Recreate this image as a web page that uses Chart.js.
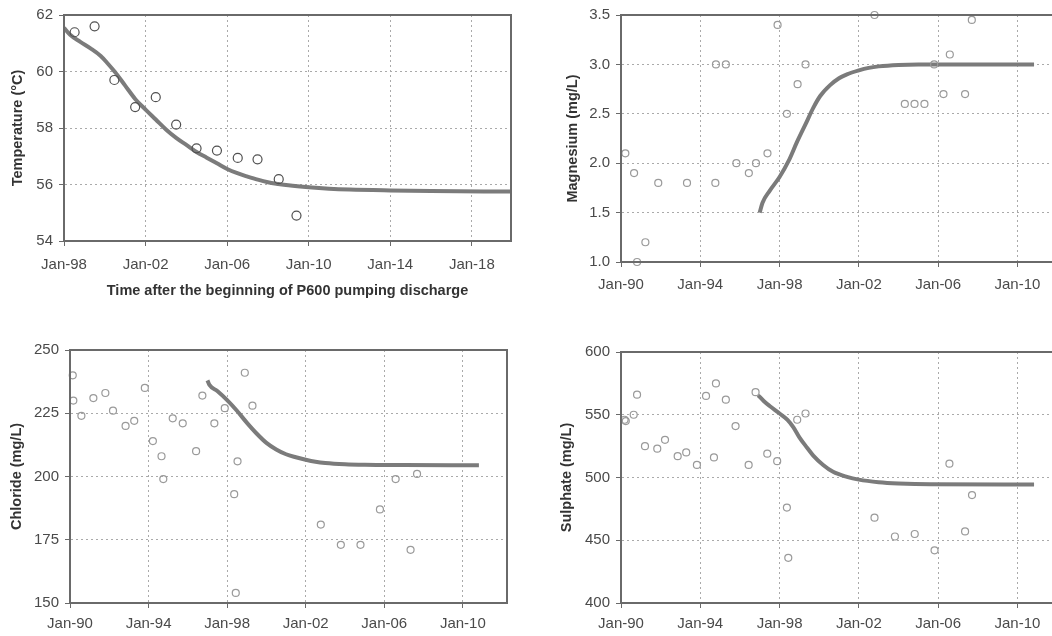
<!DOCTYPE html>
<html>
<head>
<meta charset="utf-8">
<script src="https://cdn.jsdelivr.net/npm/chart.js@4.4.1/dist/chart.umd.min.js"></script>
<style>
  html, body { margin: 0; padding: 0; background: #fff; overflow: hidden; width: 1052px; height: 636px; position: relative; }
  canvas { position: absolute; }
</style>
</head>
<body>
<canvas id="temp" width="530" height="310" style="left:0;top:0"></canvas>
<canvas id="mg" width="545" height="310" style="left:530px;top:0"></canvas>
<canvas id="cl" width="530" height="306" style="left:0;top:330px"></canvas>
<canvas id="so4" width="545" height="306" style="left:530px;top:330px"></canvas>
<script>
// x values are decimal years (Jan-98 = 1998.0)
var tempTicksX = [1998, 2002, 2006, 2010, 2014, 2018];
var chemTicksX = [1990, 1994, 1998, 2002, 2006, 2010];
var tempTicksY = [54, 56, 58, 60, 62];
var mgTicksY = [1.0, 1.5, 2.0, 2.5, 3.0, 3.5];
var clTicksY = [150, 175, 200, 225, 250];
var so4TicksY = [400, 450, 500, 550, 600];

// Temperature - measured
var tempObsYear = [1998.52, 1999.5, 2000.47, 2001.49, 2002.5, 2003.5, 2004.5, 2005.5, 2006.52, 2007.49, 2008.53, 2009.4];
var tempObsVal  = [61.39, 61.6, 59.7, 58.74, 59.09, 58.12, 57.28, 57.2, 56.94, 56.89, 56.19, 54.9];
// Temperature - model
var tempFitYear = [1998.0, 1998.3, 1998.8, 1999.3, 1999.8, 2000.1, 2000.5, 2001.0, 2001.5, 2002.0, 2002.5, 2003.0, 2003.5, 2004.0, 2004.5, 2005.0, 2005.5, 2006.0, 2006.5, 2007.0, 2007.5, 2008.0, 2008.5, 2009.0, 2010.0, 2011.0, 2012.0, 2014.0, 2016.0, 2019.92];
var tempFitVal  = [61.55, 61.3, 61.05, 60.82, 60.55, 60.32, 59.98, 59.5, 59.02, 58.65, 58.3, 57.95, 57.65, 57.4, 57.15, 56.95, 56.75, 56.55, 56.4, 56.28, 56.17, 56.08, 56.02, 55.97, 55.9, 55.85, 55.82, 55.79, 55.77, 55.75];

// Magnesium
var mgObsYear = [1990.22, 1990.66, 1990.81, 1991.23, 1991.88, 1993.33, 1994.76, 1994.79, 1995.29, 1995.82, 1996.45, 1996.81, 1997.39, 1997.9, 1998.37, 1998.91, 1999.31, 2002.79, 2004.32, 2004.81, 2005.31, 2005.8, 2006.27, 2006.59, 2007.36, 2007.7];
var mgObsVal  = [2.1, 1.9, 1.0, 1.2, 1.8, 1.8, 1.8, 3.0, 3.0, 2.0, 1.9, 2.0, 2.1, 3.4, 2.5, 2.8, 3.0, 3.5, 2.6, 2.6, 2.6, 3.0, 2.7, 3.1, 2.7, 3.45];
var mgFitYear = [1997.0, 1997.14, 1997.5, 1998.0, 1998.45, 1998.87, 1999.3, 1999.7, 2000.05, 2000.55, 2001.0, 2001.4, 2002.0, 2002.5, 2003.0, 2004.0, 2005.0, 2010.84];
var mgFitVal  = [1.5, 1.6, 1.72, 1.86, 2.02, 2.21, 2.39, 2.56, 2.68, 2.79, 2.86, 2.9, 2.94, 2.965, 2.98, 2.995, 3.0, 3.0];

// Chloride
var clObsYear = [1990.14, 1990.17, 1990.58, 1991.19, 1991.8, 1992.19, 1992.83, 1993.27, 1993.81, 1994.22, 1994.66, 1994.75, 1995.23, 1995.74, 1996.42, 1996.74, 1997.35, 1997.88, 1998.36, 1998.53, 1998.44, 1998.9, 1999.29, 2002.77, 2003.79, 2004.79, 2005.78, 2006.58, 2007.34, 2007.67];
var clObsVal  = [240, 230, 224, 231, 233, 226, 220, 222, 235, 214, 208, 199, 223, 221, 210, 232, 221, 227, 193, 206, 154, 241, 228, 181, 173, 173, 187, 199, 171, 201];
var clFitYear = [1997.0, 1997.1, 1997.5, 1998.0, 1998.5, 1999.0, 1999.5, 2000.0, 2000.5, 2001.0, 2001.5, 2002.0, 2002.5, 2003.0, 2004.0, 2005.0, 2007.0, 2010.82];
var clFitVal  = [238, 236.2, 233.8, 230.2, 226.0, 221.3, 217.0, 213.3, 210.7, 208.8, 207.6, 206.6, 205.8, 205.3, 204.8, 204.6, 204.5, 204.4];

// Sulphate
var so4ObsYear = [1990.18, 1990.24, 1990.64, 1990.81, 1991.21, 1991.83, 1992.22, 1992.86, 1993.29, 1993.83, 1994.29, 1994.69, 1994.79, 1995.29, 1995.78, 1996.44, 1996.79, 1997.38, 1997.88, 1998.37, 1998.44, 1998.89, 1999.31, 2002.79, 2003.82, 2004.82, 2005.82, 2006.57, 2007.36, 2007.71];
var so4ObsVal  = [546, 545, 550, 566, 525, 523, 530, 517, 520, 510, 565, 516, 575, 562, 541, 510, 568, 519, 513, 476, 436, 546, 551, 468, 453, 455, 442, 511, 457, 486];
var so4FitYear = [1996.92, 1997.2, 1997.5, 1998.0, 1998.4, 1998.7, 1999.0, 1999.4, 1999.7, 2000.2, 2000.7, 2001.4, 2002.0, 2003.0, 2004.0, 2005.6, 2010.84];
var so4FitVal  = [565.5, 561, 557, 551, 546, 540, 532, 523.5, 517.5, 510, 504.5, 500.5, 498.3, 496.3, 495.3, 494.6, 494.4];

var FONT = "'Liberation Sans', Arial, sans-serif";

function pts(xs, ys) {
  return xs.map(function (x, i) { return { x: x, y: ys[i] }; });
}

function janLabel(v) {
  return 'Jan-' + String(v).slice(2);
}

// solid box round the plot area
var framePlugin = {
  id: 'frame',
  afterDraw: function (chart) {
    var a = chart.chartArea, ctx = chart.ctx;
    ctx.save();
    ctx.strokeStyle = '#6a6a6a';
    ctx.lineWidth = 2;
    ctx.strokeRect(a.left, a.top, a.right - a.left, a.bottom - a.top);
    ctx.restore();
  }
};

function makeChart(id, o) {
  var ctx = document.getElementById(id).getContext('2d');
  return new Chart(ctx, {
    type: 'scatter',
    data: {
      datasets: [{
        data: pts(o.obsX, o.obsY),
        pointStyle: 'circle',
        pointRadius: o.r,
        borderColor: o.obsColor,
        backgroundColor: 'rgba(0,0,0,0)',
        borderWidth: 1.2,
        clip: false
      }, {
        type: 'line',
        data: pts(o.fitX, o.fitY),
        borderColor: '#7b7b7b',
        borderWidth: 4,
        pointRadius: 0,
        cubicInterpolationMode: 'monotone',
        fill: false
      }]
    },
    options: {
      responsive: false,
      animation: false,
      devicePixelRatio: 1,
      layout: { padding: o.pad },
      plugins: { legend: { display: false }, tooltip: { enabled: false } },
      scales: {
        x: {
          type: 'linear',
          min: o.xMin,
          max: o.xMax,
          afterBuildTicks: function (s) { s.ticks = o.xTicks.map(function (v) { return { value: v }; }); },
          afterFit: function (s) { s.height = o.xH; },
          grid: { color: '#aaaaaa', tickColor: '#6a6a6a', tickLength: 5, lineWidth: 1 },
          border: { color: '#6a6a6a', width: 2, dash: [2, 3] },
          ticks: {
            padding: o.xTickPad,
            maxRotation: 0,
            color: '#4a4a4a',
            font: { family: FONT, size: 15 },
            callback: function (v) { return janLabel(v); }
          },
          title: {
            display: !!o.xTitle,
            text: o.xTitle || '',
            color: '#333',
            font: { family: FONT, size: 14.5, weight: 'bold' },
            padding: { top: 0, bottom: 10 }
          }
        },
        y: {
          min: o.yTicks[0],
          max: o.yTicks[o.yTicks.length - 1],
          afterBuildTicks: function (s) { s.ticks = o.yTicks.map(function (v) { return { value: v }; }); },
          afterFit: function (s) { s.width = o.yW; },
          grid: { color: '#aaaaaa', tickColor: '#6a6a6a', tickLength: 5, lineWidth: 1 },
          border: { color: '#6a6a6a', width: 2, dash: [2, 3] },
          ticks: {
            padding: 6,
            color: '#4a4a4a',
            font: { family: FONT, size: 15 },
            callback: function (v) { return o.yFmt ? v.toFixed(o.yFmt) : v; }
          },
          title: {
            display: true,
            text: o.yTitle,
            color: '#333',
            font: { family: FONT, size: 14.5, weight: 'bold' },
            padding: { top: o.yTitlePad, bottom: 0 }
          }
        }
      }
    },
    plugins: [framePlugin]
  });
}

makeChart('temp', {
  obsX: tempObsYear, obsY: tempObsVal, fitX: tempFitYear, fitY: tempFitVal,
  r: 4.5, obsColor: '#505050',
  xMin: 1998, xMax: 2019.92, xTicks: tempTicksX, yTicks: tempTicksY,
  pad: { top: 13, right: 19, left: 0, bottom: 0 },
  xH: 69, yW: 64, xTickPad: 10, yTitlePad: 9,
  yTitle: 'Temperature (°C)',
  xTitle: 'Time after the beginning of P600 pumping discharge'
});

makeChart('mg', {
  obsX: mgObsYear, obsY: mgObsVal, fitX: mgFitYear, fitY: mgFitVal,
  r: 3.5, obsColor: '#9a9a9a',
  xMin: 1990, xMax: 2012.25, xTicks: chemTicksX, yTicks: mgTicksY, yFmt: 1,
  pad: { top: 13, right: 13, left: 0, bottom: 0 },
  xH: 48, yW: 91, xTickPad: 9, yTitlePad: 34,
  yTitle: 'Magnesium (mg/L)'
});

makeChart('cl', {
  obsX: clObsYear, obsY: clObsVal, fitX: clFitYear, fitY: clFitVal,
  r: 3.5, obsColor: '#9a9a9a',
  xMin: 1990, xMax: 2012.25, xTicks: chemTicksX, yTicks: clTicksY,
  pad: { top: 20, right: 23, left: 0, bottom: 0 },
  xH: 33, yW: 70, xTickPad: 7, yTitlePad: 8,
  yTitle: 'Chloride (mg/L)'
});

makeChart('so4', {
  obsX: so4ObsYear, obsY: so4ObsVal, fitX: so4FitYear, fitY: so4FitVal,
  r: 3.5, obsColor: '#9a9a9a',
  xMin: 1990, xMax: 2012.25, xTicks: chemTicksX, yTicks: so4TicksY,
  pad: { top: 22, right: 13, left: 0, bottom: 0 },
  xH: 33, yW: 91, xTickPad: 7, yTitlePad: 28,
  yTitle: 'Sulphate (mg/L)'
});
</script>
</body>
</html>
